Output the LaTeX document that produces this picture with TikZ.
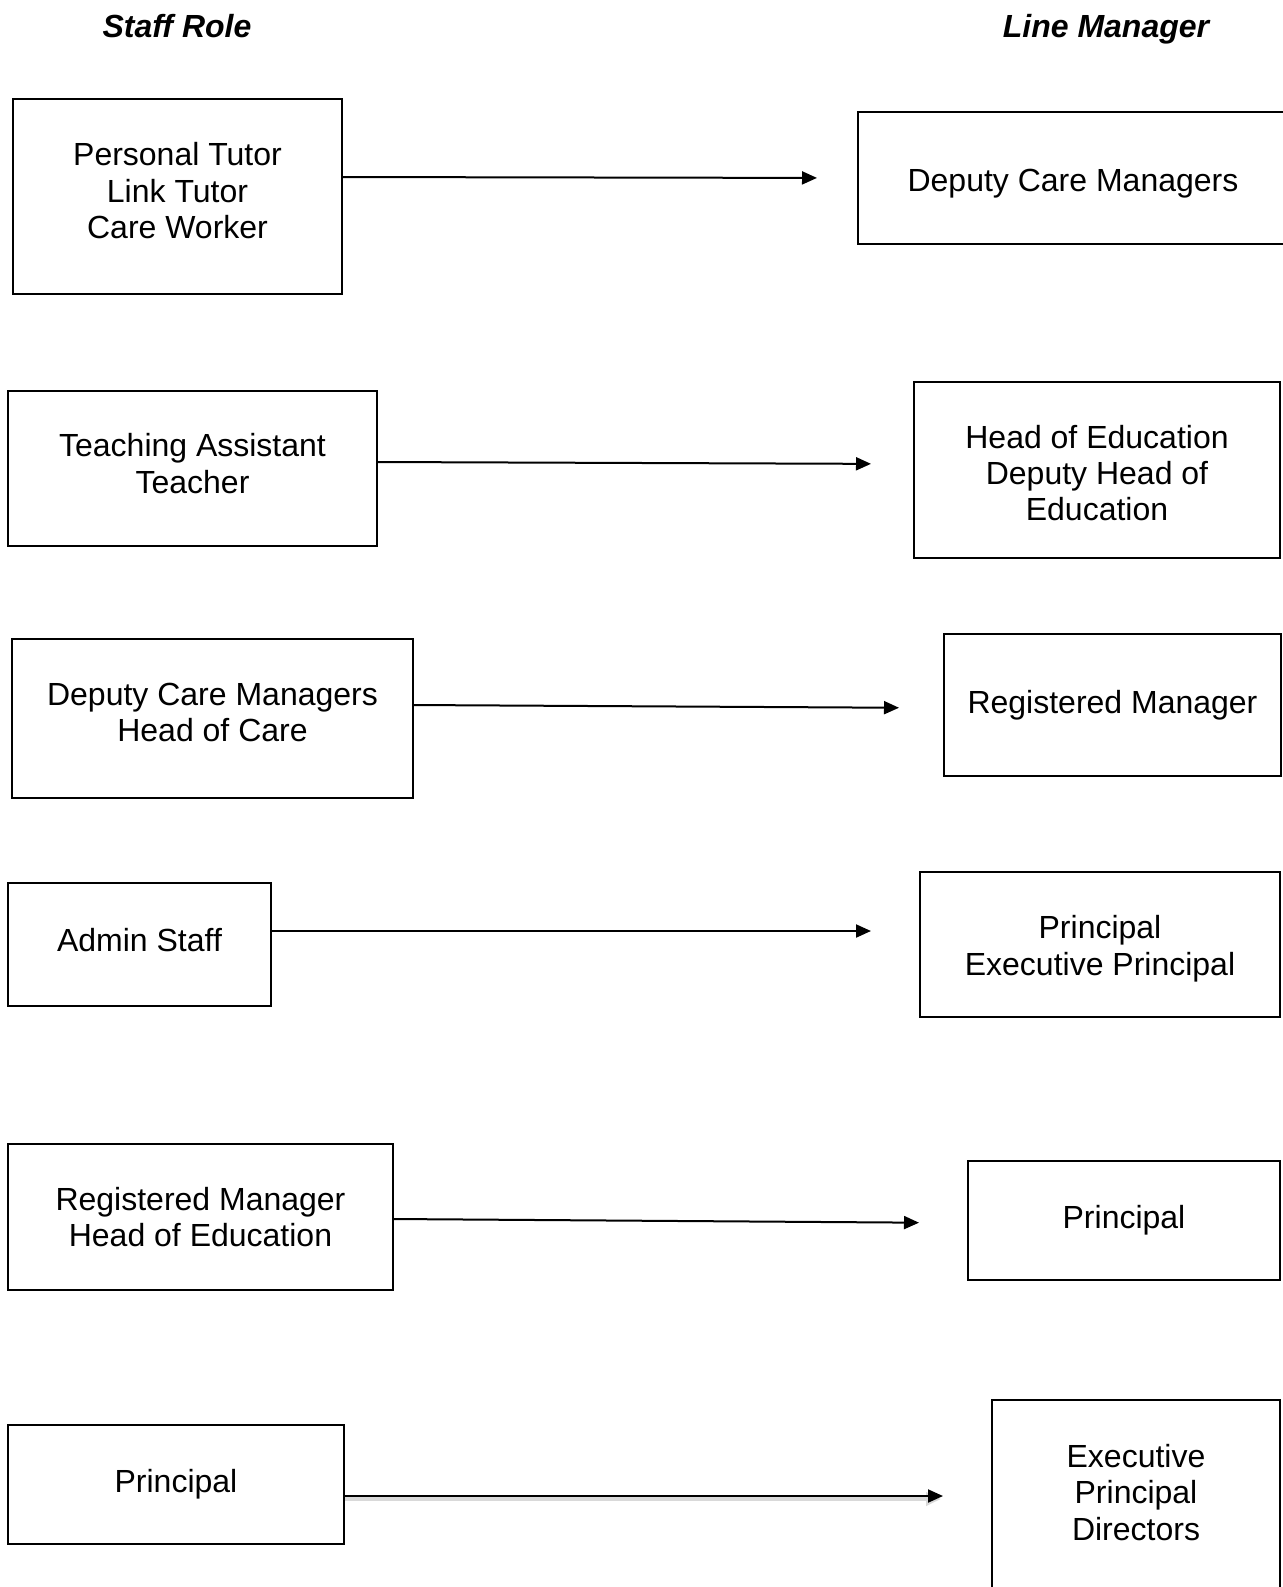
\documentclass[tikz,border=0pt]{standalone}
\usepackage{fontspec}
\setmainfont{Liberation Sans}
\usetikzlibrary{arrows.meta}
\usetikzlibrary{positioning}

\tikzset{
  rolebox/.style={draw=black,line width=1pt,align=center,inner sep=0pt,font=\fontsize{16}{18.2}\selectfont},
  header/.style={anchor=base,font=\fontsize{16}{18.2}\selectfont\bfseries\itshape},
  link/.style={->,line width=1pt,color=black}
}

\begin{document}
\begin{tikzpicture}[line cap=butt,line join=miter,>={Triangle[length=7.5pt,width=6.5pt]},x=0.5pt,y=-0.5pt]
\useasboundingbox (0,0) rectangle (1282,1587);
% column headings
\node[header] (hstaff) at (177,37) {Staff Role};
\node[header] (hline) at (1106,37) {Line Manager};
% staff roles
\node[rolebox,minimum width=164.5pt,minimum height=97.5pt,text depth=6pt] (p1) at (177.5,196.5) {Personal Tutor\\Link Tutor\\Care Worker};
\node[rolebox,minimum width=184.5pt,minimum height=77.5pt,text depth=5pt] (p2) at (192.5,468.5) {Teaching Assistant\\Teacher};
\node[rolebox,minimum width=200.5pt,minimum height=79.5pt,text depth=6pt] (p3) at (212.5,718.5) {Deputy Care Managers\\Head of Care};
\node[rolebox,minimum width=131.5pt,minimum height=61.5pt,text depth=5pt] (p4) at (139.5,944.5) {Admin Staff};
\node[rolebox,minimum width=192.5pt,minimum height=73pt] (p5) at (200.5,1217) {Registered Manager\\Head of Education};
\node[rolebox,minimum width=168pt,minimum height=59.5pt] (p6) at (176,1484.5) {Principal};
% line managers
\node[rolebox,minimum width=215pt,minimum height=66pt,text height=16.7pt] (m1) at (1073,178) {Deputy Care Managers};
\node[rolebox,minimum width=183pt,minimum height=88pt,text height=51.1pt] (m2) at (1097,470) {Head of Education\\Deputy Head of\\Education};
\node[rolebox,minimum width=168.5pt,minimum height=71pt] (m3) at (1112.5,705) {Registered Manager};
\node[rolebox,minimum width=180pt,minimum height=72.5pt,text height=33.9pt] (m4) at (1100,944.5) {Principal\\Executive Principal};
\node[rolebox,minimum width=156pt,minimum height=59.5pt] (m5) at (1124,1220.5) {Principal};
\node[rolebox,minimum width=144pt,minimum height=95pt,text depth=3pt] (m6) at (1136,1495) {Executive\\Principal\\Directors};
% reporting lines
\draw[link,shorten >=20pt] ([yshift=9.75pt]p1.east) -- (m1.west);
\draw[link,shorten >=21pt] ([yshift=3.25pt]p2.east) -- ([yshift=3pt]m2.west);
\draw[link,shorten >=22pt] ([yshift=6.75pt]p3.east) -- ([yshift=-1.5pt]m3.west);
\draw[link,shorten >=24pt] ([yshift=6.75pt]p4.east) -- ([yshift=6.75pt]m4.west);
\draw[link,shorten >=24pt] ([yshift=-1pt]p5.east) -- ([yshift=-1.25pt]m5.west);
\draw[link,shorten >=24pt,preaction={draw=black!15,line width=2pt,shorten >=25pt,transform canvas={yshift=-1.5pt}}] ([yshift=-5.75pt]p6.east) -- ([yshift=-0.5pt]m6.west);
\end{tikzpicture}
\end{document}
